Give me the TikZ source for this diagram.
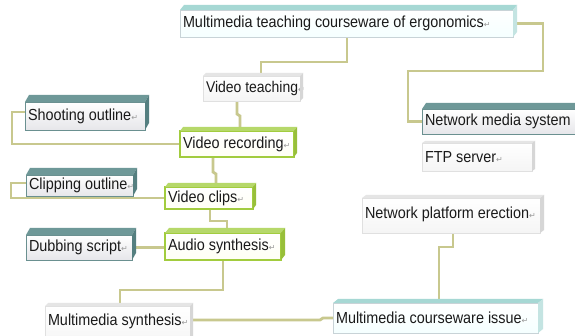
\documentclass[tikz,border=0pt]{standalone}
\usepackage{fontspec}
\setmainfont[FakeStretch=0.9]{Liberation Sans}
\newfontfamily\symf{DejaVu Sans}
\usetikzlibrary{calc}
\pgfdeclarelayer{background}
\pgfdeclarelayer{bg0}
\pgfsetlayers{bg0,background,main}
\definecolor{conn}{HTML}{C8C88E}
\definecolor{txtc}{HTML}{1A1A1A}
\definecolor{gbord}{HTML}{A2CC3E}
\definecolor{gtop}{HTML}{B6D86A}
\definecolor{gside}{HTML}{98BF3A}
\definecolor{ttop}{HTML}{6E9898}
\definecolor{tside}{HTML}{557F80}
\definecolor{tbord}{HTML}{6A9090}
\definecolor{ltop}{HTML}{A6D8D4}
\definecolor{lside}{HTML}{C4E4E2}
\newcommand\pmark{{\symf\fontsize{8}{9}\selectfont\textcolor{black!40}{↵}}}
\newcommand\mybox[9]{%
  \pgfmathsetmacro\bw{#5-#3-6}%
  \pgfmathsetmacro\bh{#6-#4}%
  \node[#2, minimum width=#5-#3, minimum height=\bh pt, anchor=north west] (#1) at (#3,-#4) {\hbox to \bw pt{#9\hss}};
  \fill[#2top] (#1.north west) -- ++(#7,#8) -- ($(#1.north east)+(#7,#8)$) -- (#1.north east) -- cycle;
  \fill[#2side] (#1.north east) -- ++(#7,#8) -- ($(#1.south east)+(#7,#8)$) -- (#1.south east) -- cycle;
}
\tikzset{
  kbase/.style={rectangle, inner xsep=3pt, inner ysep=0pt, outer sep=0pt,
    text=txtc, font=\fontsize{16}{18}\selectfont},
  kteal/.style={kbase, draw=tbord, line width=0.8pt, top color=white, bottom color=blue!8!gray!18},
  ktealtop/.style={fill=ttop},
  ktealside/.style={fill=tside},
  kgreen/.style={kbase, draw=gbord, line width=1.2pt, top color=white, bottom color=green!5!yellow!4},
  kgreentop/.style={fill=gtop},
  kgreenside/.style={fill=gside},
  kgray/.style={kbase, draw=black!12, line width=0.6pt, top color=white, bottom color=black!4},
  kgraytop/.style={fill=black!10},
  kgrayside/.style={fill=black!16},
  klt/.style={kbase, draw=cyan!30!black!25, line width=0.6pt, top color=white, bottom color=cyan!4},
  klttop/.style={fill=ltop},
  kltside/.style={fill=lside},
  cn/.style={draw=conn, line width=2.8pt}
}
\begin{document}
\begin{tikzpicture}[x=1pt,y=1pt]
\useasboundingbox (0,0) rectangle (575,-336);
\clip (0,0) rectangle (575,-336);
\begin{pgfonlayer}{bg0}
\fill[white] (0,0) rectangle (575,-336);
\end{pgfonlayer}

\mybox{T}{klt}{180}{10}{513}{37}{4}{5}{Multimedia teaching courseware of ergonomics\pmark}
\mybox{VT}{kgray}{203}{76}{300}{101}{3}{3}{\fontsize{15.5}{17}\selectfont Video teaching\pmark}
\mybox{SO}{kteal}{25}{102}{145}{130}{4}{7}{Shooting outline\pmark}
\mybox{VR}{kgreen}{180}{131}{294}{157}{3}{4}{Video recording\pmark}
\mybox{NM}{kteal}{422}{109}{590}{134}{4}{6}{Network media system}
\mybox{FTP}{kgray}{422}{143}{532}{171}{3}{2}{FTP server\pmark}
\mybox{CO}{kteal}{26}{175}{133}{196}{4}{7}{Clipping outline\pmark}
\mybox{VC}{kgreen}{165}{187}{253}{209}{3}{4}{Video clips\pmark}
\mybox{DS}{kteal}{26}{235}{132}{260}{4}{7}{Dubbing script\pmark}
\mybox{AS}{kgreen}{165}{233}{281}{260}{4}{5}{Audio synthesis\pmark}
\mybox{NP}{kgray}{362}{198}{540}{233}{4}{3}{\raisebox{6pt}{Network platform erection\pmark}}
\mybox{MI}{klt}{333}{303}{538}{333}{5}{4}{Multimedia courseware issue\pmark}
\mybox{MS}{kgray}{45}{306}{190}{345}{3}{3}{\raisebox{11pt}{Multimedia synthesis\pmark}}

\begin{pgfonlayer}{background}
\draw[cn] ([xshift=167pt]T.south west) -- ++(0,-25) -| ([xshift=58pt]VT.north west);
\draw[cn] (T.east) -- ++(30,0) -- ++(0,-47.5) -- ++(-135,0) |- (NM.west);
\draw[cn] ([xshift=34pt]VT.south west) -- ++(0,-13) -- ++(3,-2) -- ([xshift=37pt]VT.south west |- VR.north);
\draw[cn] ([yshift=4pt]SO.west) -- ++(-13,0) |- (VR.west);
\draw[cn] ([xshift=33pt]VR.south west) -- ++(0,-15) -- ++(3,-2) -- ([xshift=51pt]VC.north west);
\draw[cn] ([yshift=2.5pt]CO.west) -- ++(-15,0) |- (VC.west);
\draw[cn] ([xshift=45pt]VC.south west) -- ++(0,-12) -| ([xshift=62pt]AS.north west);
\draw[cn] (DS.east) -- (DS.east -| AS.west);
\draw[cn] ([xshift=58pt]AS.south west) -- ++(0,-30) -| ([xshift=75pt]MS.north west);
\draw[cn] ([yshift=5.5pt]MS.east) -- ++(130,0) -- ++(3,2) -- (MI.west);
\draw[cn] ([xshift=91pt]NP.south west) -- ++(0,-14) -| ([xshift=106pt]MI.north west);
\end{pgfonlayer}
\end{tikzpicture}
\end{document}
